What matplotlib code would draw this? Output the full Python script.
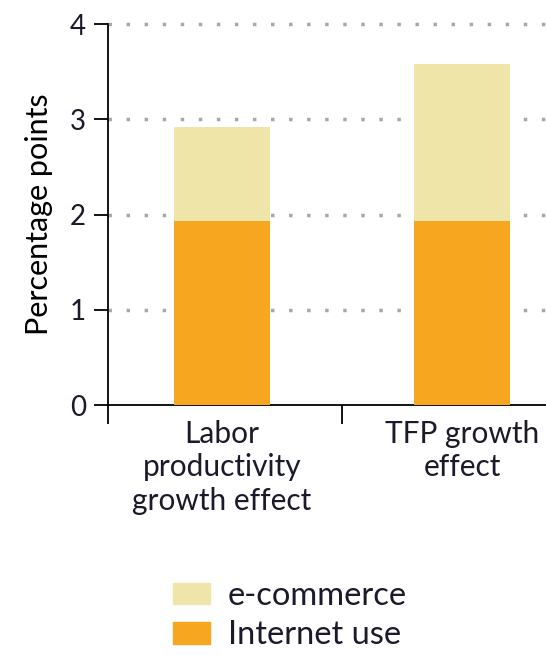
import numpy as np
import matplotlib.pyplot as plt
from matplotlib.patches import Patch

categories = ['Labor\nproductivity\ngrowth effect', 'TFP growth\neffect']
internet_use = [1.93, 1.93]
ecommerce = [0.99, 1.65]
yticks = [0, 1, 2, 3, 4]

plt.rcParams['font.family'] = ['Lato', 'DejaVu Sans']
plt.rcParams['text.color'] = '#1a1a2a'

fig = plt.figure(figsize=(5.46, 6.62), dpi=100)
ax = fig.add_axes([0.198, 0.388, 0.802, 0.5755])

x = np.arange(len(categories))
ax.bar(x, internet_use, width=0.4, color='#F6A61F', zorder=3)
ax.bar(x, ecommerce, width=0.4, bottom=internet_use, color='#F0E5A8', zorder=3)

ax.set_xlim(-0.475, 1.35)
ax.set_ylim(0, 4)
ax.set_yticks(yticks)
ax.set_yticklabels([str(v) for v in yticks], fontsize=20, color='#1a1a2a')
for v in yticks[1:]:
    ax.axhline(v, color='#a8a8a8', lw=2.5, ls=(0, (1, 4.2)), zorder=1, clip_on=False)

ax.set_xticks(x)
ax.set_xticklabels(categories, fontsize=21.5, linespacing=1.22, color='#1a1a2a')
ax.tick_params(axis='x', length=0, pad=11)
ax.set_xticks([-0.475, 0.5], minor=True)
ax.tick_params(axis='x', which='minor', length=14, width=1.3)
ax.tick_params(axis='y', length=10, width=1.3, pad=6)

ax.spines['top'].set_visible(False)
ax.spines['right'].set_visible(False)
ax.spines['left'].set_linewidth(1.3)
ax.spines['bottom'].set_linewidth(1.3)

ax.set_ylabel('Percentage points', fontsize=22, labelpad=12)

handles = [Patch(color='#F0E5A8'), Patch(color='#F6A61F')]
fig.legend(handles, ['e-commerce', 'Internet use'], loc='lower center',
           bbox_to_anchor=(0.531, -0.027), frameon=False, fontsize=23.5,
           handlelength=1.15, handleheight=0.62, handletextpad=0.55, labelspacing=0.3)

fig.savefig('out.png', dpi=100)
